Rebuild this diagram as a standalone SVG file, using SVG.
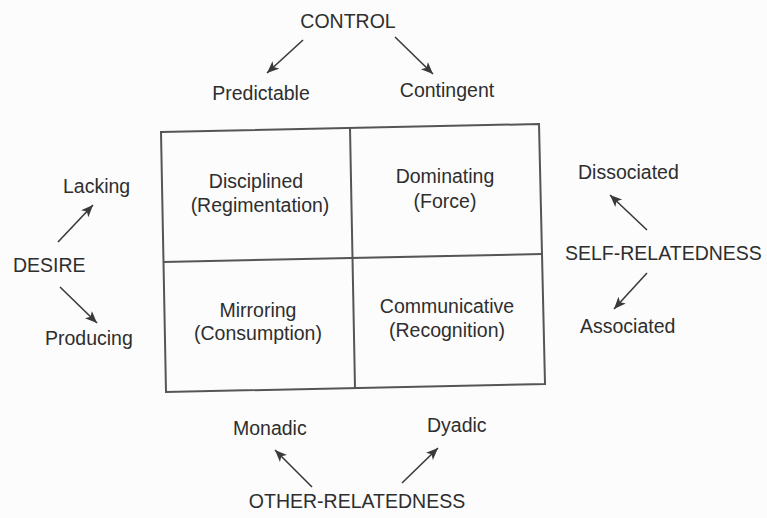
<svg xmlns="http://www.w3.org/2000/svg" width="767" height="518" viewBox="0 0 767 518">
  <style>
    text { font-family: "Liberation Sans", Arial, sans-serif; font-size: 19.5px; fill: #2e2e2e; }
    .c { text-anchor: middle; }
    .grid { fill: none; stroke: #555; stroke-width: 2; }
    .arrow { stroke: #3a3a3a; stroke-width: 1.6; fill: none; marker-end: url(#head); }
  </style>
  <defs>
    <marker id="head" markerUnits="userSpaceOnUse" markerWidth="14" markerHeight="12" refX="12" refY="5" orient="auto">
      <path d="M0,0 L12,5 L0,10 L3,5 Z" fill="#3a3a3a"/>
    </marker>
  </defs>
  <rect width="767" height="518" fill="#fcfcfc"/>

  <!-- 2x2 matrix -->
  <g id="matrix">
    <polygon class="grid" points="161,132 539,124 545,384 166,392"/>
    <line class="grid" x1="350" y1="128" x2="355" y2="388"/>
    <line class="grid" x1="163" y1="262" x2="542" y2="254"/>
  </g>

  <g id="cell-disciplined">
    <text class="c" x="256" y="188">Disciplined</text>
    <text class="c" x="260" y="212">(Regimentation)</text>
  </g>
  <g id="cell-dominating">
    <text class="c" x="445" y="183">Dominating</text>
    <text class="c" x="445" y="208">(Force)</text>
  </g>
  <g id="cell-mirroring">
    <text class="c" x="258" y="317">Mirroring</text>
    <text class="c" x="258" y="340">(Consumption)</text>
  </g>
  <g id="cell-communicative">
    <text class="c" x="447" y="313">Communicative</text>
    <text class="c" x="447" y="337">(Recognition)</text>
  </g>

  <!-- axis labels -->
  <g id="control"><text class="c" x="348" y="28">CONTROL</text></g>
  <g id="predictable"><text class="c" x="261" y="100">Predictable</text></g>
  <g id="contingent"><text class="c" x="447" y="97">Contingent</text></g>

  <g id="desire"><text x="13" y="272">DESIRE</text></g>
  <g id="lacking"><text x="63" y="193">Lacking</text></g>
  <g id="producing"><text x="45" y="345">Producing</text></g>

  <g id="self-relatedness"><text x="565" y="260">SELF-RELATEDNESS</text></g>
  <g id="dissociated"><text x="578" y="179">Dissociated</text></g>
  <g id="associated"><text x="580" y="333">Associated</text></g>

  <g id="other-relatedness"><text class="c" x="357" y="508">OTHER-RELATEDNESS</text></g>
  <g id="monadic"><text x="233" y="435">Monadic</text></g>
  <g id="dyadic"><text x="427" y="432">Dyadic</text></g>

  <!-- connectors -->
  <g id="connectors">
    <line class="arrow" x1="303" y1="40" x2="267" y2="73"/>
    <line class="arrow" x1="395" y1="37" x2="433" y2="74"/>
    <line class="arrow" x1="58" y1="242" x2="93" y2="205"/>
    <line class="arrow" x1="60" y1="287" x2="97" y2="323"/>
    <line class="arrow" x1="647" y1="230" x2="610" y2="195"/>
    <line class="arrow" x1="647" y1="273" x2="614" y2="309"/>
    <line class="arrow" x1="312" y1="487" x2="275" y2="450"/>
    <line class="arrow" x1="402" y1="483" x2="438" y2="448"/>
  </g>
</svg>
